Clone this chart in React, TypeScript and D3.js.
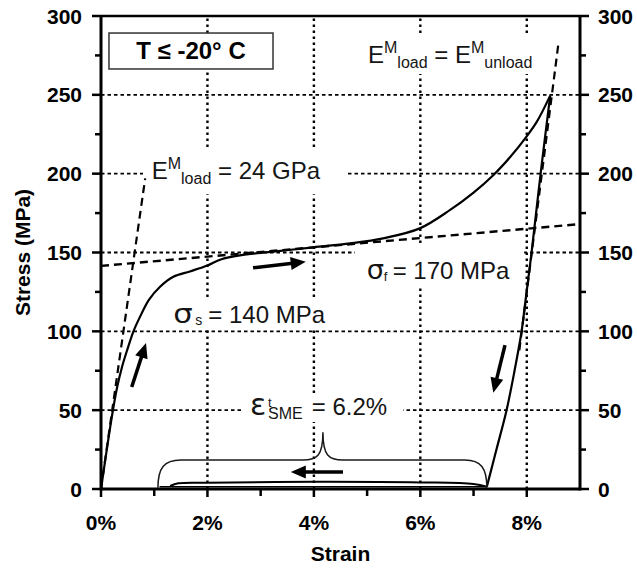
import React from 'react';
import * as d3 from 'd3';

const W = 637;
const H = 568;
const PLOT = { left: 101, right: 580, top: 16, bottom: 489 };
const FONT = '"Liberation Sans", Arial, Helvetica, sans-serif';
const GREEK = '"DejaVu Sans", "Liberation Sans", sans-serif';

// axis ticks
const xTickMajor = [0, 2, 4, 6, 8];
const xTickLabels = ['0%', '2%', '4%', '6%', '8%'];
const xTickMinor = [1, 3, 5, 7];
const yTickMajor = [0, 50, 100, 150, 200, 250, 300];
const yTickMinor = [25, 75, 125, 175, 225, 275];
const xGrid = [2, 4, 6, 8];
const yGrid = [50, 100, 150, 200, 250];

// loading curve (strain %, stress MPa)
const loadStrain = [0, 0.1, 0.2, 0.3, 0.4, 0.5, 0.61, 0.73, 0.9, 1.11, 1.36, 1.67, 2.0, 2.25, 2.61, 3.24, 3.99, 4.68, 5.3, 5.99, 6.56, 7.0, 7.37, 7.7, 7.97, 8.19, 8.44];
const loadStress = [0, 23, 45, 64, 78, 89, 100, 109, 120, 128.3, 134.6, 138, 141.8, 145.6, 148.2, 150.5, 153.3, 155.8, 159, 165.3, 177, 188, 199, 211, 222.4, 233, 249.5];

// unloading curve
const unloadStrain = [8.44, 8.26, 8.09, 7.96, 7.9, 7.77, 7.62, 7.43, 7.25];
const unloadStress = [249.5, 200, 150, 115, 99.4, 75, 50, 25, 1.5];

// recovery on heating (near zero stress)
const recoverStrain = [7.25, 7.0, 6.0, 4.0, 2.0, 1.45, 1.3];
const recoverStress = [1.5, 3.2, 4.2, 4.6, 4.0, 3.6, 1.9];
const baseStrain = [1.1, 7.25];
const baseStress = [1.5, 1.5];

// dashed construction lines
const modLoadStrain = [0, 0.83];
const modLoadStress = [0, 197];
const plateauStrain = [0, 9];
const plateauStress = [141.5, 168];
const modUnloadStrain = [7.86, 8.6];
const modUnloadStress = [88, 284];

// arrows: [tailStrain, tailStress, tipStrain, tipStress]
const arrows = [
  [0.577, 64.7, 0.846, 92.6],
  [2.857, 140.3, 3.847, 144.1],
  [4.547, 10.8, 3.566, 10.8],
  [7.591, 91.3, 7.371, 61.0],
];

// brace for recovered strain
const braceFrom = 1.07;
const braceTo = 7.25;
const braceMid = 4.17;
const braceLevel = 18.4;
const braceTip = 36;

export default function App() {
  const x = d3.scaleLinear().domain([0, 9]).range([PLOT.left, PLOT.right]);
  const y = d3.scaleLinear().domain([0, 300]).range([PLOT.bottom, PLOT.top]);

  const lineSmooth = d3.line<[number, number]>().x(d => x(d[0])).y(d => y(d[1])).curve(d3.curveCatmullRom.alpha(0.5));
  const lineStraight = d3.line<[number, number]>().x(d => x(d[0])).y(d => y(d[1]));
  const zip = (a: number[], b: number[]) => a.map((v, i) => [v, b[i]] as [number, number]);

  const loadPath = lineSmooth(zip(loadStrain, loadStress)) || '';
  const unloadPath = lineSmooth(zip(unloadStrain, unloadStress)) || '';
  const recoverPath = lineSmooth(zip(recoverStrain, recoverStress)) || '';
  const basePath = lineStraight(zip(baseStrain, baseStress)) || '';
  const modLoadPath = lineStraight(zip(modLoadStrain, modLoadStress)) || '';
  const plateauPath = lineStraight(zip(plateauStrain, plateauStress)) || '';
  const modUnloadPath = lineStraight(zip(modUnloadStrain, modUnloadStress)) || '';

  // brace
  const bx0 = x(braceFrom), bx1 = x(braceTo), bxm = x(braceMid);
  const by0 = y(0.8), byl = y(braceLevel), byt = y(braceTip);
  const r0 = 23, r1 = 18;
  const bracePath = `M${bx0},${by0} C${bx0},${byl + 8} ${bx0 + 6},${byl} ${bx0 + r0},${byl} L${bxm - 20},${byl} C${bxm - 6},${byl} ${bxm},${byl - 4} ${bxm},${byt} C${bxm},${byl - 4} ${bxm + 6},${byl} ${bxm + 20},${byl} L${bx1 - r1 - 4},${byl} C${bx1 - 6},${byl} ${bx1},${byl + 8} ${bx1},${by0}`;

  const arrowEls = arrows.map((a, i) => {
    const x1 = x(a[0]), y1 = y(a[1]), x2 = x(a[2]), y2 = y(a[3]);
    const dx = x2 - x1, dy = y2 - y1;
    const len = Math.hypot(dx, dy);
    const ux = dx / len, uy = dy / len;
    const hl = 15, hw = 6.5;
    const bx = x2 - ux * hl, byy = y2 - uy * hl;
    const px = -uy, py = ux;
    return (
      <g key={i}>
        <line x1={x1} y1={y1} x2={bx + ux * 2} y2={byy + uy * 2} stroke="#000" strokeWidth={3.5} />
        <polygon points={`${x2},${y2} ${bx + px * hw},${byy + py * hw} ${bx - px * hw},${byy - py * hw}`} fill="#000" />
      </g>
    );
  });

  const bg = (s0: number, s1: number, v0: number, v1: number, key: string) => (
    <rect key={key} x={x(s0)} y={y(v1)} width={x(s1) - x(s0)} height={y(v0) - y(v1)} fill="#fff" />
  );

  const labelColor = '#151515';

  // label anchors (pixel positions derived from data coordinates)
  const sfX = x(4.992), sfY = y(133);
  const ssX = x(1.358), ssY = y(105);
  const epX = x(2.8), epY = y(46.9);

  return (
    <svg width={W} height={H} style={{ position: 'absolute', left: 0, top: 0, background: '#fff' }} fontFamily={FONT}>
      <rect x={0} y={0} width={W} height={H} fill="#fff" />
      {/* grid */}
      {xGrid.map(g => (
        <line key={'xg' + g} x1={x(g)} x2={x(g)} y1={y(0)} y2={y(300)} stroke="#000" strokeWidth={2.4} strokeDasharray="2.5,3.5" />
      ))}
      {yGrid.map(g => (
        <line key={'yg' + g} x1={x(0)} x2={x(9)} y1={y(g)} y2={y(g)} stroke="#000" strokeWidth={1.8} strokeDasharray="3.5,3" />
      ))}
      {/* label backgrounds */}
      {bg(0.789, 4.622, 186.9, 215.6, 'b1')}
      {bg(1.259, 4.397, 100.9, 119.9, 'b2')}
      {bg(4.773, 7.95, 127.5, 155.4, 'b3')}
      {bg(2.63, 5.675, 42.5, 60.9, 'b4')}
      {bg(4.904, 8.343, 263.2, 288.6, 'b5')}
      {/* box */}
      <rect x={x(0.15)} y={y(289.2)} width={x(3.232) - x(0.15)} height={y(266.4) - y(289.2)} fill="#fff" stroke="#333" strokeWidth={1.5} />
      <text x={(x(0.15) + x(3.232)) / 2} y={58.5} textAnchor="middle" fontSize={24} fontWeight="bold" fill="#000">T ≤ -20° C</text>

      {/* dashed construction lines */}
      <path d={modLoadPath} fill="none" stroke="#000" strokeWidth={2.2} strokeDasharray="8,5" />
      <path d={plateauPath} fill="none" stroke="#000" strokeWidth={2.4} strokeDasharray="8,5" />
      <path d={modUnloadPath} fill="none" stroke="#000" strokeWidth={2.2} strokeDasharray="8,5" />

      {/* curves */}
      <path d={loadPath} fill="none" stroke="#000" strokeWidth={2.2} />
      <path d={unloadPath} fill="none" stroke="#000" strokeWidth={2.2} />
      <path d={recoverPath} fill="none" stroke="#000" strokeWidth={2} />
      <path d={basePath} fill="none" stroke="#000" strokeWidth={1.5} />

      {/* brace */}
      <path d={bracePath} fill="none" stroke="#1a1a1a" strokeWidth={1.5} />

      {arrowEls}

      {/* labels */}
      <text x={x(0.953)} y={y(196.6)} fontSize={24} fill={labelColor}>
        <tspan>E</tspan>
        <tspan fontSize={16} dy={-10}>M</tspan>
        <tspan fontSize={16} dy={15}>load</tspan>
        <tspan fontSize={24} dy={-5}> = 24 GPa</tspan>
      </text>
      <text x={x(5.017)} y={y(270)} fontSize={24} fill={labelColor}>
        <tspan>E</tspan>
        <tspan fontSize={16} dy={-10}>M</tspan>
        <tspan fontSize={16} dy={15}>load</tspan>
        <tspan fontSize={24} dy={-5}> = E</tspan>
        <tspan fontSize={16} dy={-10}>M</tspan>
        <tspan fontSize={16} dy={15}>unload</tspan>
      </text>

      {/* sigma_f */}
      <text transform={`translate(${sfX},${sfY}) scale(1.05,1)`} fontFamily={GREEK} fontSize={26} fill={labelColor}>σ</text>
      <text x={sfX + 17} y={sfY + 1.5} fontSize={13} fill={labelColor}>f</text>
      <text x={sfX + 26} y={sfY} fontSize={24} fill={labelColor}>= 170 MPa</text>

      {/* sigma_s */}
      <text transform={`translate(${ssX},${ssY}) scale(1.18,1)`} fontFamily={GREEK} fontSize={26} fill={labelColor}>σ</text>
      <text x={ssX + 22} y={ssY + 1.5} fontSize={14} fill={labelColor}>s</text>
      <text x={ssX + 35} y={ssY} fontSize={24} fill={labelColor}>= 140 MPa</text>

      {/* epsilon */}
      <text x={epX} y={epY} fontFamily={GREEK} fontSize={30} fill={labelColor}>ε</text>
      <text x={epX + 18} y={epY - 8} fontSize={13} fill={labelColor}>t</text>
      <text x={epX + 18} y={epY + 4.3} fontSize={16} fill={labelColor}>SME</text>
      <text x={epX + 61.7} y={epY} fontSize={24} fill={labelColor}>= 6.2%</text>

      {/* axes frame */}
      <line x1={PLOT.left} x2={PLOT.right} y1={PLOT.top} y2={PLOT.top} stroke="#000" strokeWidth={2.5} />
      <line x1={PLOT.left} x2={PLOT.right} y1={PLOT.bottom} y2={PLOT.bottom} stroke="#000" strokeWidth={3} />
      <line x1={PLOT.left} x2={PLOT.left} y1={PLOT.top - 1} y2={PLOT.bottom + 1.5} stroke="#000" strokeWidth={3} />
      <line x1={PLOT.right} x2={PLOT.right} y1={PLOT.top - 1} y2={PLOT.bottom + 1.5} stroke="#000" strokeWidth={3} />

      {/* x ticks */}
      {xTickMajor.map((t, i) => (
        <g key={'xt' + t}>
          <line x1={x(t)} x2={x(t)} y1={PLOT.bottom} y2={PLOT.bottom + 8} stroke="#000" strokeWidth={2.5} />
          <text x={x(t)} y={530} textAnchor="middle" fontSize={21} fontWeight="bold">{xTickLabels[i]}</text>
        </g>
      ))}
      {xTickMinor.map(t => (
        <line key={'xm' + t} x1={x(t)} x2={x(t)} y1={PLOT.bottom} y2={PLOT.bottom + 7} stroke="#000" strokeWidth={2.5} />
      ))}
      {/* y ticks */}
      {yTickMajor.map(t => (
        <g key={'yt' + t}>
          <line x1={PLOT.left - 9} x2={PLOT.left} y1={y(t)} y2={y(t)} stroke="#000" strokeWidth={2.5} />
          <line x1={PLOT.right} x2={PLOT.right + 9} y1={y(t)} y2={y(t)} stroke="#000" strokeWidth={2.5} />
          <text x={82} y={y(t) + 7.5} textAnchor="end" fontSize={21} fontWeight="bold">{t}</text>
          <text x={598} y={y(t) + 7.5} textAnchor="start" fontSize={21} fontWeight="bold">{t}</text>
        </g>
      ))}
      {yTickMinor.map(t => (
        <g key={'ym' + t}>
          <line x1={PLOT.left - 6} x2={PLOT.left} y1={y(t)} y2={y(t)} stroke="#000" strokeWidth={2.5} />
          <line x1={PLOT.right} x2={PLOT.right + 6} y1={y(t)} y2={y(t)} stroke="#000" strokeWidth={2.5} />
        </g>
      ))}

      {/* axis titles */}
      <text x={(PLOT.left + PLOT.right) / 2} y={561} textAnchor="middle" fontSize={21} fontWeight="bold">Strain</text>
      <text transform={`translate(30,${(PLOT.top + PLOT.bottom) / 2}) rotate(-90)`} textAnchor="middle" fontSize={21} fontWeight="bold">Stress (MPa)</text>
    </svg>
  );
}
